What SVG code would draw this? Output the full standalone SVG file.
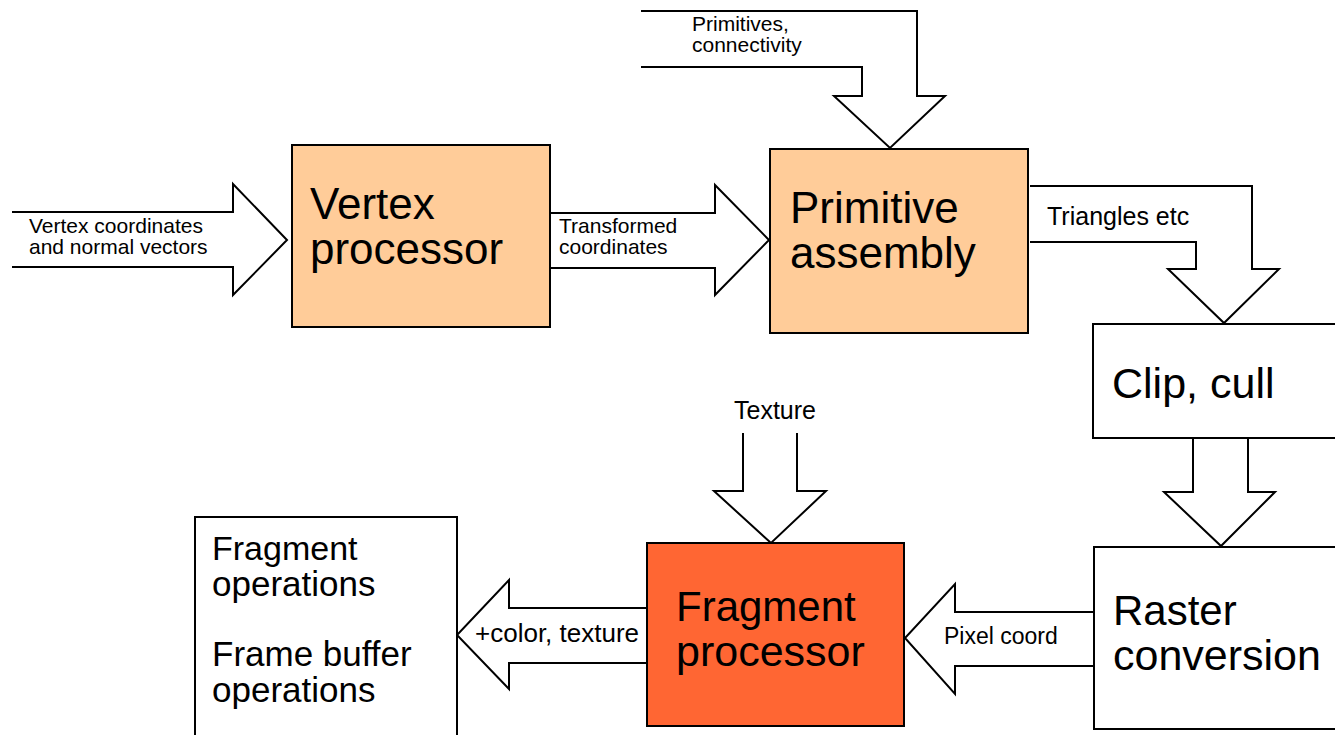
<svg xmlns="http://www.w3.org/2000/svg" width="1335" height="735" viewBox="0 0 1335 735">
<style>
  .box{stroke:#000;stroke-width:2}
  .arr{fill:#fff;stroke:#000;stroke-width:2;stroke-linejoin:miter}
  text{font-family:"Liberation Sans",Arial,sans-serif;fill:#000}
  .big{font-size:44px}
  .big2{font-size:42px}
  .mid{font-size:34px}
  .lab{font-size:25px}
  .sm{font-size:21px}
</style>
<rect width="1335" height="735" fill="#fff"/>
<g id="connectors">
  <path class="arr" d="M12,212 H233 V184 L287,240 L233,295 V267 H12"/>
  <path class="arr" d="M551,213 H715 V185 L769,240 L715,295 V268 H551"/>
  <path class="arr" d="M641,11 H917 V96 H945 L890,148 L834,96 H862 V67 H641"/>
  <path class="arr" d="M1030,186 H1252 V269 H1279 L1224,323 L1168,269 H1196 V242 H1030"/>
  <path class="arr" d="M1193,439 V492 H1164 L1221,546 L1275,492 H1248 V439"/>
  <path class="arr" d="M743,433 V491 H714 L771,543 L826,491 H797 V433"/>
  <path class="arr" d="M1093,612 H955 V584 L905,638 L955,694 V666 H1093"/>
  <path class="arr" d="M646,608 H509 V580 L457,635 L509,689 V663 H646"/>
  <text class="sm" x="29" y="233">Vertex coordinates</text>
  <text class="sm" x="29" y="254">and normal vectors</text>
  <text class="sm" x="559" y="233">Transformed</text>
  <text class="sm" x="559" y="254">coordinates</text>
  <text class="sm" x="692" y="31">Primitives,</text>
  <text class="sm" x="692" y="52">connectivity</text>
  <text class="lab" x="1047" y="225">Triangles etc</text>
  <text class="lab" x="775" y="419" text-anchor="middle">Texture</text>
  <text class="sm" x="944" y="644" style="font-size:23px">Pixel coord</text>
  <text class="lab" x="475" y="642" style="font-size:26px">+color, texture</text>
</g>
<g id="vertex-processor">
  <rect class="box" x="292" y="145" width="258" height="182" fill="#FFCC99"/>
  <text class="big" x="310" y="219">Vertex</text>
  <text class="big" x="310" y="264">processor</text>
</g>
<g id="primitive-assembly">
  <rect class="box" x="770" y="149" width="258" height="184" fill="#FFCC99"/>
  <text class="big" x="790" y="223">Primitive</text>
  <text class="big" x="790" y="268">assembly</text>
</g>
<g id="clip-cull">
  <rect class="box" x="1093" y="324" width="260" height="114" fill="#fff"/>
  <text class="big2" x="1112" y="398" style="font-size:43px">Clip, cull</text>
</g>
<g id="raster-conversion">
  <rect class="box" x="1094" y="547" width="260" height="182" fill="#fff"/>
  <text class="big2" x="1113" y="625">Raster</text>
  <text class="big2" x="1113" y="670" style="font-size:43px">conversion</text>
</g>
<g id="fragment-processor">
  <rect class="box" x="647" y="543" width="257" height="183" fill="#FF6633"/>
  <text class="big2" x="676" y="621">Fragment</text>
  <text class="big2" x="676" y="666" style="font-size:43px">processor</text>
</g>
<g id="fragment-operations">
  <rect class="box" x="195" y="517" width="262" height="230" fill="#fff"/>
  <text class="mid" x="212" y="560">Fragment</text>
  <text class="mid" x="212" y="596" style="font-size:35px">operations</text>
  <text class="mid" x="212" y="666" style="font-size:35px">Frame buffer</text>
  <text class="mid" x="212" y="702" style="font-size:35px">operations</text>
</g>
</svg>
